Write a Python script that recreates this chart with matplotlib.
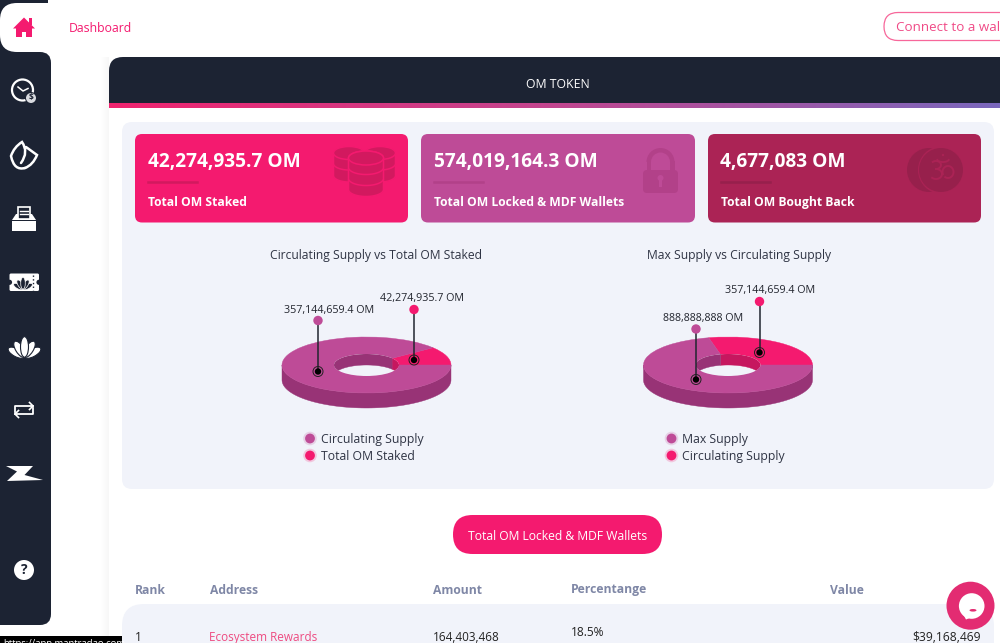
"""Recreate the OM token dashboard screenshot. Axes are in screen pixels."""
import numpy as np
import matplotlib
matplotlib.use("Agg")
import matplotlib.pyplot as plt
from matplotlib.patches import Circle, Ellipse, FancyBboxPatch, PathPatch, Polygon, Rectangle, Wedge
from matplotlib.path import Path
from matplotlib.transforms import Affine2D

plt.rcParams["font.family"] = ["Open Sans", "DejaVu Sans"]

# ------------------------------- data ------------------------------- #
chart_titles = ["Circulating Supply vs Total OM Staked", "Max Supply vs Circulating Supply"]
chart1_names = ["Total OM Staked", "Circulating Supply"]
chart1_values = [42274935.7, 357144659.4]
chart1_labels = ["42,274,935.7 OM", "357,144,659.4 OM"]
chart2_names = ["Circulating Supply", "Max Supply"]
chart2_values = [357144659.4, 888888888]
chart2_labels = ["357,144,659.4 OM", "888,888,888 OM"]

card_values = ["42,274,935.7 OM", "574,019,164.3 OM", "4,677,083 OM"]
card_names = ["Total OM Staked", "Total OM Locked & MDF Wallets", "Total OM Bought Back"]

table_headers = ["Rank", "Address", "Amount", "Percentange", "Value"]
table_row = ["1", "Ecosystem Rewards", "164,403,468", "18.5%", "$39,168,469"]

# ------------------------------ colours ----------------------------- #
PINK = "#F41A6F"
PURPLE = "#BE4B97"
MAROON = "#AB2355"
NAVY = "#1C2333"
PANEL = "#F1F3FA"
PINK_DK = "#C6175F"
PURPLE_DK = "#983376"
TEXT = "#2F3444"

fig = plt.figure(figsize=(10, 6.43), dpi=100)
ax = fig.add_axes([0, 0, 1, 1])
ax.set_xlim(0, 1000)
ax.set_ylim(643, 0)
ax.axis("off")


def round_box(x0, y0, x1, y1, r, color, z=1, **kw):
    p = FancyBboxPatch((x0, y0), x1 - x0, y1 - y0, boxstyle=f"round,pad=0,rounding_size={r}",
                       facecolor=color, edgecolor=kw.pop("edgecolor", "none"), zorder=z, **kw)
    ax.add_patch(p)
    return p


def label(x, y, s, size=8.7, color=TEXT, weight="normal", ha="left", z=10):
    # +1: Open Sans sits about a pixel high when centred
    return ax.text(x, y + 1, s, fontsize=size, color=color, fontweight=weight, ha=ha, va="center", zorder=z)


def circle(x, y, r, color, z=5, **kw):
    p = Circle((x, y), r, facecolor=color, edgecolor=kw.pop("edgecolor", "none"), zorder=z, **kw)
    ax.add_patch(p)
    return p


def arc(cx, cy, rx, ry, t0, t1, dy=0.0):
    t = np.radians(np.linspace(t0, t1, 80))
    return np.column_stack([cx + rx * np.cos(t), cy - ry * np.sin(t) + dy])


# ---------------------------- page frame ---------------------------- #
def page():
    # soft shadow left of the content column
    shade = np.linspace(1, 0.965, 10).reshape(1, -1)
    ax.imshow(shade, extent=(99, 109, 643, 57), cmap="gray", vmin=0, vmax=1, aspect="auto", zorder=0)

    # header with gradient strip
    round_box(109, 57, 1040, 130, 14, NAVY, z=1)
    ax.add_patch(Rectangle((109, 104), 900, 40, facecolor="white", zorder=1.1))
    grad = np.linspace(0, 1, 256).reshape(1, -1)
    cmap = matplotlib.colors.LinearSegmentedColormap.from_list("strip", ["#F0246F", "#C2468F", "#7A68BD"])
    ax.imshow(grad, extent=(109, 1000, 108, 103.5), cmap=cmap, aspect="auto", zorder=1.2)
    label(557.5, 83.5, "OM TOKEN", size=8.8, color="white", ha="center")

    label(69, 28, "Dashboard", size=8.8, color=PINK, weight="medium")
    ax.add_patch(FancyBboxPatch((884, 12.5), 170, 28, boxstyle="round,pad=0,rounding_size=14",
                                facecolor="white", edgecolor="#F7679A", linewidth=0.9, zorder=2))
    label(896, 26.5, "Connect to a wal", size=9.6, color="#F04A86")

    round_box(122, 122, 994, 489, 10, PANEL, z=1.5)

    # bottom button and table
    round_box(453, 515, 662, 554, 19.5, PINK, z=2)
    label(557.5, 535, "Total OM Locked & MDF Wallets", size=8.75, color="white", ha="center")
    xs = [135, 210, 433, 571, 830]
    for x, h in zip(xs, table_headers):
        label(x, 589, h, size=8.7, color="#7F87A6", weight="bold")
    round_box(122, 604, 994, 720, 22, PANEL, z=1.5)
    label(135, 636.5, table_row[0], size=8.6, color="#222222")
    label(209, 636.5, table_row[1], size=8.5, color="#EE4A80")
    label(433, 636.5, table_row[2], size=8.5, color="#222222")
    label(571, 631, table_row[3], size=8.6, color="#222222")
    label(981, 636.5, table_row[4], size=8.7, color="#222222", ha="right")

    # chat bubble
    circle(970.5, 605.7, 24, "#E32C72", z=6)
    circle(971.7, 606, 12.8, "white", z=7)
    ax.add_patch(Polygon([[963, 614], [966, 619.5], [972, 617]], facecolor="white", zorder=7))
    ax.add_patch(Ellipse((973, 610.3), 7, 2.6, facecolor="#E32C72", zorder=8))

    # link tooltip, its lower half runs off the screenshot
    ax.add_patch(Rectangle((0, 636), 122, 10, facecolor="black", zorder=9))
    label(3, 642.5, "https://app.mantradao.com", size=6.8, color="white", z=10)


# ----------------------------- side bar ----------------------------- #
def lotus(x, y, size, color, edge, z, lw=0.8):
    # outer petals first so the centre one ends up on top
    for a in (-62, 62, -32, 32, 0):
        scale = 1.0 if a == 0 else 0.9
        e = Ellipse((0, -size * 0.48 * scale), size * 0.38, size * 0.98 * scale, facecolor=color,
                    edgecolor=edge, linewidth=lw, zorder=z,
                    transform=Affine2D().rotate_deg(a).translate(x, y) + ax.transData)
        ax.add_patch(e)


def sidebar():
    ax.add_patch(Rectangle((0, 0), 25, 70, facecolor=NAVY, zorder=2))
    ax.add_patch(Rectangle((0, 0), 48, 3, facecolor=NAVY, zorder=2))
    round_box(-30, 52, 51, 625, 11, NAVY, z=2)
    round_box(0, 3, 70, 52, 17, "white", z=3)
    w = dict(facecolor="white", edgecolor="none", zorder=4)

    # home
    ax.add_patch(Rectangle((28.5, 18), 3.5, 7, facecolor=PINK, zorder=4))
    ax.add_patch(Polygon([[13, 28.5], [24, 17.5], [35, 28.5]], facecolor=PINK, zorder=4))
    ax.add_patch(Rectangle((16, 27), 16, 10, facecolor=PINK, zorder=4))
    ax.add_patch(Rectangle((22, 32), 4, 5, facecolor="white", zorder=4.1))

    # clock with dollar
    ax.add_patch(Circle((22.5, 90), 10.5, facecolor="none", edgecolor="white", linewidth=1.6, zorder=4))
    ax.plot([18, 23, 28], [87, 91, 88.5], color="white", linewidth=1.1, zorder=4)
    circle(31, 98, 6, NAVY, z=4.5)
    circle(31, 98, 5, "#D8DADF", z=5)
    ax.text(31, 98, "$", fontsize=6, color=NAVY, ha="center", va="center", fontweight="bold", zorder=6)

    # leaf
    leaf = Path([(25, 168), (14, 171), (11, 156), (14, 147), (22, 142), (29, 152), (21, 163),
                 (26, 147), (37, 155), (33, 165), (25, 168)],
                [Path.MOVETO, Path.CURVE3, Path.CURVE3, Path.CURVE3, Path.CURVE3, Path.CURVE3, Path.CURVE3,
                 Path.MOVETO, Path.LINETO, Path.CURVE3, Path.CURVE3])
    ax.add_patch(PathPatch(leaf, facecolor="none", edgecolor="white", linewidth=1.8, capstyle="round", zorder=4))

    # inbox
    ax.add_patch(Rectangle((12, 221), 24, 9.5, **w))
    ax.add_patch(Polygon([[12, 220], [16, 214], [32, 214], [36, 220]], **w))
    ax.add_patch(Rectangle((18, 207), 12, 12, facecolor=NAVY, edgecolor="white", linewidth=1.2, zorder=4.2))
    for y in (211, 214):
        ax.plot([20, 28], [y, y], color="white", linewidth=1, zorder=4.3)

    # ticket
    round_box(9.5, 273.5, 39, 291, 1.5, "white", z=4)
    for x in (9.5, 39):
        circle(x, 282.3, 2.6, NAVY, z=4.1)
    ax.plot([33, 33], [275, 290], color=NAVY, linewidth=1, linestyle=":", zorder=4.2)
    lotus(23, 289, 12, NAVY, "white", 4.2, lw=0.5)

    # lotus
    lotus(24.5, 357, 21, "white", NAVY, 4)

    # swap arrows
    ax.plot([15, 15, 33], [412, 406, 406], color="white", linewidth=1.3, zorder=4)
    ax.plot([33, 33, 15], [408, 414, 414], color="white", linewidth=1.3, zorder=4)
    ax.plot([29.5, 33, 29.5], [402.5, 406, 409.5], color="white", linewidth=1.2, zorder=4)
    ax.plot([18.5, 15, 18.5], [410.5, 414, 417.5], color="white", linewidth=1.2, zorder=4)

    # z logo
    ax.add_patch(Polygon([[6, 466], [33, 466], [24.5, 475], [43, 480], [7, 481], [17, 471.5]], **w))

    # help
    circle(24, 570, 10, "white", z=4)
    ax.text(24, 570.5, "?", fontsize=10, color=NAVY, fontweight="bold", ha="center", va="center", zorder=5)


# ------------------------------- cards ------------------------------ #
def coin_stack(cx, y0, rx, ry, n, h, dk, edge, z):
    for i in range(n - 1, -1, -1):
        y = y0 + i * h
        body = np.vstack([arc(cx, y, rx, ry, 180, 0), arc(cx, y + h - 1.5, rx, ry, 360, 180)])
        ax.add_patch(Polygon(body, facecolor=dk, edgecolor=edge, linewidth=1.1, zorder=z))
    ax.add_patch(Ellipse((cx, y0), 2 * rx, 2 * ry, facecolor=dk, edgecolor=edge, linewidth=1.1, zorder=z))


def cards():
    boxes = [(135, 408, PINK, "#D2195F"), (421, 695, PURPLE, "#B24189"), (708, 981, MAROON, "#97204C")]
    for (x0, x1, c, dk), val, name in zip(boxes, card_values, card_names):
        round_box(x0, 134, x1, 222.5, 7, c, z=2)
        label(x0 + 12.5, 161.5, val, size=13.8, color="white", weight="bold")
        ax.plot([x0 + 13, x0 + 62], [182, 182], color=dk, linewidth=1.8, zorder=3)
        label(x0 + 13, 201.5, name, size=8.7, color="white", weight="bold")

    # stacked coins
    dk = boxes[0][3]
    coin_stack(349, 153, 15.5, 6.5, 2, 12, dk, PINK, 3)
    coin_stack(380, 153, 15.5, 6.5, 2, 12, dk, PINK, 3)
    coin_stack(366, 158, 17.5, 7, 3, 11, dk, PINK, 3.2)

    # lock
    dk = boxes[1][3]
    ax.add_patch(Wedge((660.5, 162), 14, 180, 360, width=4.5, facecolor=dk, zorder=3))
    ax.add_patch(Rectangle((646.5, 161), 4.5, 9, facecolor=dk, zorder=3))
    ax.add_patch(Rectangle((670, 161), 4.5, 9, facecolor=dk, zorder=3))
    round_box(643, 170, 678, 193, 4, dk, z=3)
    circle(660.5, 178, 3, PURPLE, z=3.1)
    ax.add_patch(Rectangle((659.3, 179), 2.4, 8, facecolor=PURPLE, zorder=3.1))

    # om coin
    dk = boxes[2][3]
    circle(929, 170, 22, dk, z=3)
    circle(942, 170, 24, MAROON, z=3.1)
    circle(941, 170, 22, dk, z=3.2)
    om = dict(color=MAROON, linewidth=1.4, zorder=3.3)
    ax.plot(*arc(936, 165, 5, 4, 130, -90).T, **om)
    ax.plot(*arc(936, 174, 6, 5, 90, -130).T, **om)
    ax.plot(*arc(948, 172, 5.5, 6, 200, -120).T, **om)
    ax.plot(*arc(943, 159, 6, 3, 200, 340).T, **om)
    circle(943, 155, 1.2, MAROON, z=3.3)


# ------------------------------- donuts ----------------------------- #
RX, RY = 84.5, 28
HOLE_RX, HOLE_RY = 32.5, 11
DEPTH, HOLE_DEPTH = 15, 11


def donut(cx, cy, values):
    fracs = np.asarray(values, float) / np.sum(values)
    edges = np.concatenate([[0.0], np.cumsum(fracs) * 360])
    tops, walls = [PINK, PURPLE], [PINK_DK, PURPLE_DK]
    tf = Affine2D().scale(RX, -RY).translate(cx, cy) + ax.transData
    hole = Ellipse((cx, cy), 2 * HOLE_RX, 2 * HOLE_RY, facecolor=PANEL, edgecolor="none", zorder=3.2)
    for t0, t1, top, wall in zip(edges[:-1], edges[1:], tops, walls):
        # outer side wall, front half only
        a0, a1 = max(t0, 180), max(t1, 180)
        if a1 > a0:
            upper = arc(cx, cy, RX, RY, a0, a1)
            lower = arc(cx, cy, RX, RY, a1, a0, DEPTH)
            ax.add_patch(Polygon(np.vstack([upper, lower]), facecolor=wall, edgecolor=wall, linewidth=0.3, zorder=3))
        # top face
        ax.add_patch(Wedge((0, 0), 1, t0, t1, facecolor=top, edgecolor=top, linewidth=0.3,
                           transform=tf, zorder=3.1))
    ax.add_patch(hole)
    for t0, t1, wall in zip(edges[:-1], edges[1:], walls):
        # inner wall, back half only
        a0, a1 = min(t0, 180), min(t1, 180)
        if a1 > a0:
            upper = arc(cx, cy, HOLE_RX, HOLE_RY, a0, a1)
            lower = arc(cx, cy, HOLE_RX, HOLE_RY, a1, a0, HOLE_DEPTH)
            p = Polygon(np.vstack([upper, lower]), facecolor=wall, edgecolor=wall, linewidth=0.3, zorder=3.3)
            ax.add_patch(p)
            p.set_clip_path(hole)


def pin(x, y_top, y_bot, color):
    ax.plot([x, x], [y_top, y_bot], color="#222630", linewidth=1.3, alpha=0.85, zorder=4)
    circle(x, y_top, 4.7, color, z=4.1)
    ax.add_patch(Circle((x, y_bot), 5, facecolor="none", edgecolor="#222222", linewidth=0.7, zorder=4.1))
    circle(x, y_bot, 3.2, "black", z=4.2)


def legend_item(x, y, name, color):
    circle(x, y, 6.8, color, z=3, alpha=0.2)
    circle(x, y, 4.9, color, z=3.1)
    label(x + 11, y, name, size=8.8, color=TEXT)


def charts():
    label(376.5, 254.5, chart_titles[0], size=8.7, ha="center")
    label(739, 254.5, chart_titles[1], size=8.7, ha="center")

    donut(366.5, 365, chart1_values)
    pin(414, 309.5, 360, PINK)
    pin(318, 320.5, 371.5, PURPLE)
    label(422, 297.5, chart1_labels[0], size=7.75, color="#22252E", ha="center")
    label(329, 309, chart1_labels[1], size=7.75, color="#22252E", ha="center")
    legend_item(310, 438.5, chart1_names[1], PURPLE)
    legend_item(310, 455.5, chart1_names[0], PINK)

    donut(728, 365, chart2_values)
    pin(759.5, 301.5, 352.5, PINK)
    pin(696, 329, 379.5, PURPLE)
    label(770, 289.5, chart2_labels[0], size=7.75, color="#22252E", ha="center")
    label(703, 317, chart2_labels[1], size=7.75, color="#22252E", ha="center")
    legend_item(671.5, 438.5, chart2_names[1], PURPLE)
    legend_item(671.5, 455.5, chart2_names[0], PINK)


page()
sidebar()
cards()
charts()
ax.set_xlim(0, 1000)
ax.set_ylim(643, 0)
fig.savefig("out.png", dpi=100)
